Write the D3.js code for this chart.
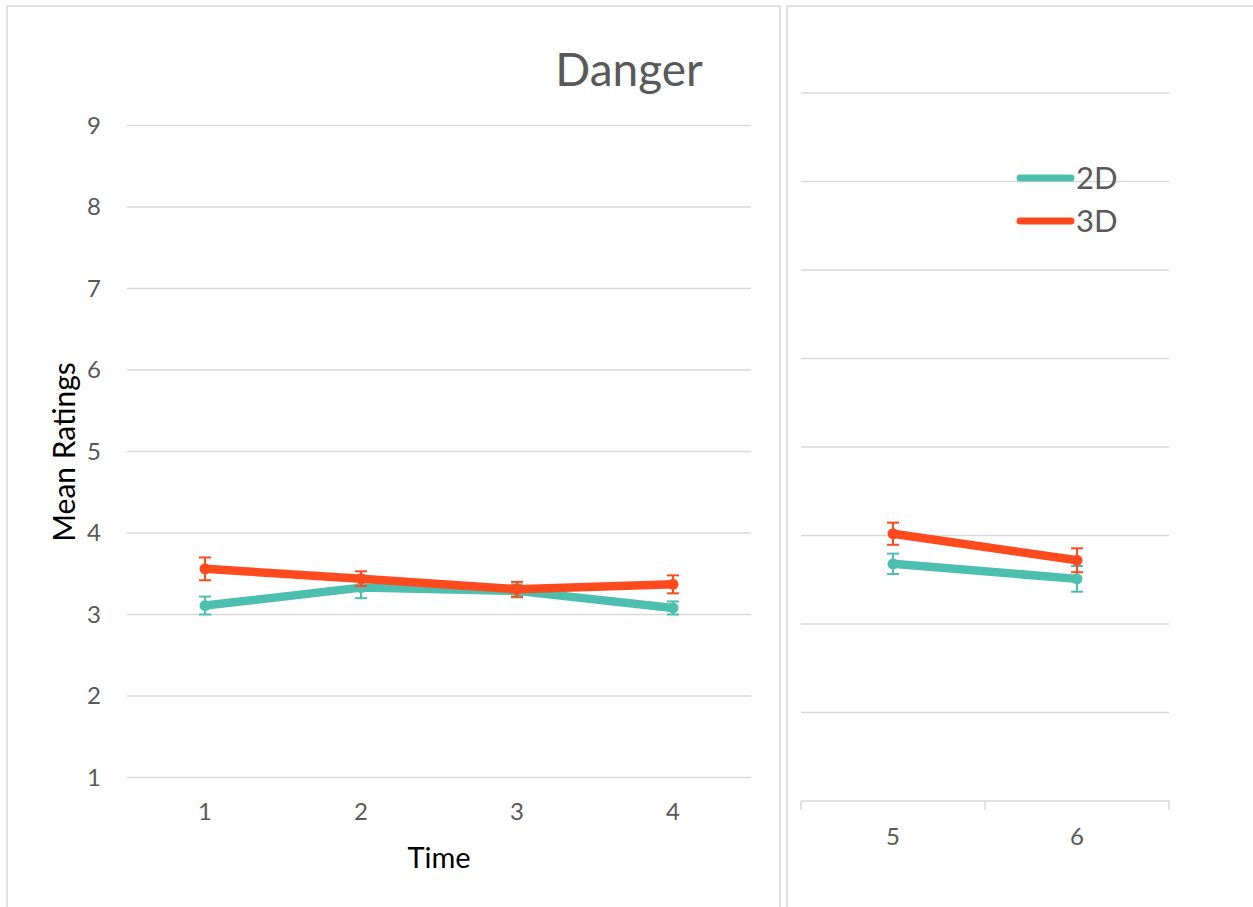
<!DOCTYPE html>
<html>
<head>
<meta charset="utf-8">
<script src="https://cdn.jsdelivr.net/npm/d3@7"></script>
<style>
  body { margin: 0; background: #fff; }
  text { font-family: Lato, "Open Sans", sans-serif; }
</style>
</head>
<body>
<div id="chart"></div>
<script>
// data
var timesLeft = ["1", "2", "3", "4"];
var timesRight = ["5", "6"];
var mean2D = [3.11, 3.33, 3.29, 3.08, 3.68, 3.51];
var err2D  = [0.11, 0.13, 0.08, 0.08, 0.115, 0.145];
var mean3D = [3.56, 3.44, 3.31, 3.37, 4.02, 3.72];
var err3D  = [0.14, 0.09, 0.09, 0.11, 0.125, 0.135];
var yTicks = [1, 2, 3, 4, 5, 6, 7, 8, 9];
var seriesNames = ["2D", "3D"];

var width = 1253;
var height = 907;
var grey = "#d9d9d9";
var textGrey = "#595959";

var color = d3.scaleOrdinal()
  .domain(seriesNames)
  .range(["#4cbfae", "#fe4a1c"]);

var svg = d3.select("#chart")
  .append("svg")
  .attr("width", width)
  .attr("height", height);

svg.append("rect")
  .attr("width", width)
  .attr("height", height)
  .attr("fill", "#fff");

// panel borders
svg.append("path")
  .attr("d", "M7,907V6H780V907")
  .attr("fill", "none")
  .attr("stroke", grey)
  .attr("stroke-width", 1.5);

svg.append("path")
  .attr("d", "M787,907V6H1253")
  .attr("fill", "none")
  .attr("stroke", grey)
  .attr("stroke-width", 1.5);

// scales
var xL = d3.scaleBand().domain(timesLeft).range([127, 751]);
var yL = d3.scaleLinear().domain([1, 9]).range([777.5, 125.5]);
var xR = d3.scaleBand().domain(timesRight).range([801, 1169]);
var yR = d3.scaleLinear().domain([1, 9]).range([801, 93]);

function rows(series, err, times, offset) {
  return times.map(function(t, i) {
    return { t: t, v: series[i + offset], e: err[i + offset] };
  });
}

// gridlines
function grid(x, y, skipFirst) {
  svg.append("g")
    .selectAll("line")
    .data(skipFirst ? yTicks.slice(1) : yTicks)
    .enter()
    .append("line")
    .attr("x1", x.range()[0])
    .attr("x2", x.range()[1])
    .attr("y1", function(d) { return y(d); })
    .attr("y2", function(d) { return y(d); })
    .attr("stroke", grey)
    .attr("stroke-width", 1.5);
}
grid(xL, yL, false);
grid(xR, yR, true);

// left y axis labels
var yAxis = svg.append("g")
  .attr("transform", "translate(127,0)")
  .call(d3.axisLeft(yL).tickValues(yTicks).tickSize(0).tickPadding(26));
yAxis.select(".domain").remove();
yAxis.selectAll("text")
  .style("font-size", "24px")
  .attr("fill", textGrey);

// left x axis labels
var xAxisL = svg.append("g")
  .attr("transform", "translate(0," + yL(1) + ")")
  .call(d3.axisBottom(xL).tickSize(0).tickPadding(25));
xAxisL.select(".domain").remove();
xAxisL.selectAll("text")
  .style("font-size", "24px")
  .attr("fill", textGrey);

// right x axis with band boundary ticks
var xAxisR = svg.append("g")
  .attr("transform", "translate(0," + yR(1) + ")")
  .call(d3.axisBottom(xR).tickSize(0).tickPadding(27));
xAxisR.select(".domain")
  .attr("d", "M" + xR.range()[0] + ",0H" + xR.range()[1])
  .attr("stroke", grey)
  .attr("stroke-width", 1.5);
xAxisR.selectAll("text")
  .style("font-size", "24px")
  .attr("fill", textGrey);
xAxisR.selectAll(".edge")
  .data(timesRight.map(function(t) { return xR(t); }).concat([xR.range()[1]]))
  .enter()
  .append("line")
  .attr("class", "edge")
  .attr("x1", function(d) { return d; })
  .attr("x2", function(d) { return d; })
  .attr("y1", 0)
  .attr("y2", 9)
  .attr("stroke", grey)
  .attr("stroke-width", 1.5);

// series
function drawSeries(name, series, err) {
  var c = color(name);
  var panels = [
    { x: xL, y: yL, data: rows(series, err, timesLeft, 0) },
    { x: xR, y: yR, data: rows(series, err, timesRight, timesLeft.length) }
  ];
  panels.forEach(function(p) {
    var cx = function(d) { return p.x(d.t) + p.x.bandwidth() / 2; };
    var line = d3.line()
      .x(cx)
      .y(function(d) { return p.y(d.v); });

    svg.append("path")
      .datum(p.data)
      .attr("d", line)
      .attr("fill", "none")
      .attr("stroke", c)
      .attr("stroke-width", 8.5)
      .attr("stroke-linejoin", "round");

    svg.append("g")
      .selectAll("circle")
      .data(p.data)
      .enter()
      .append("circle")
      .attr("cx", cx)
      .attr("cy", function(d) { return p.y(d.v); })
      .attr("r", 5.5)
      .attr("fill", c);

    var eb = svg.append("g")
      .attr("stroke", c)
      .attr("stroke-width", 2);
    eb.selectAll(".stem")
      .data(p.data)
      .enter()
      .append("line")
      .attr("x1", cx)
      .attr("x2", cx)
      .attr("y1", function(d) { return p.y(d.v + d.e); })
      .attr("y2", function(d) { return p.y(d.v - d.e); });
    [1, -1].forEach(function(s) {
      eb.selectAll(".cap" + s)
        .data(p.data)
        .enter()
        .append("line")
        .attr("x1", function(d) { return cx(d) - 6; })
        .attr("x2", function(d) { return cx(d) + 6; })
        .attr("y1", function(d) { return p.y(d.v + s * d.e); })
        .attr("y2", function(d) { return p.y(d.v + s * d.e); });
    });
  });
}
drawSeries("2D", mean2D, err2D);
drawSeries("3D", mean3D, err3D);

// title and axis titles
svg.append("text")
  .attr("x", 629)
  .attr("y", 86)
  .attr("text-anchor", "middle")
  .style("font-size", "46px")
  .attr("fill", textGrey)
  .text("Danger");

svg.append("text")
  .attr("x", 439)
  .attr("y", 868)
  .attr("text-anchor", "middle")
  .style("font-size", "29px")
  .attr("fill", "#000")
  .text("Time");

svg.append("text")
  .attr("transform", "translate(75,452) rotate(-90)")
  .attr("text-anchor", "middle")
  .style("font-size", "30px")
  .attr("fill", "#000")
  .text("Mean Ratings");

// legend
var legend = svg.append("g")
  .selectAll("g")
  .data(seriesNames)
  .enter()
  .append("g")
  .attr("transform", function(d, i) { return "translate(1017," + (178 + i * 43) + ")"; });

legend.append("line")
  .attr("x1", 3)
  .attr("x2", 54)
  .attr("stroke", function(d) { return color(d); })
  .attr("stroke-width", 7)
  .attr("stroke-linecap", "round");

legend.append("text")
  .attr("x", 59)
  .attr("y", 11)
  .style("font-size", "31px")
  .attr("fill", textGrey)
  .text(function(d) { return d; });
</script>
</body>
</html>
